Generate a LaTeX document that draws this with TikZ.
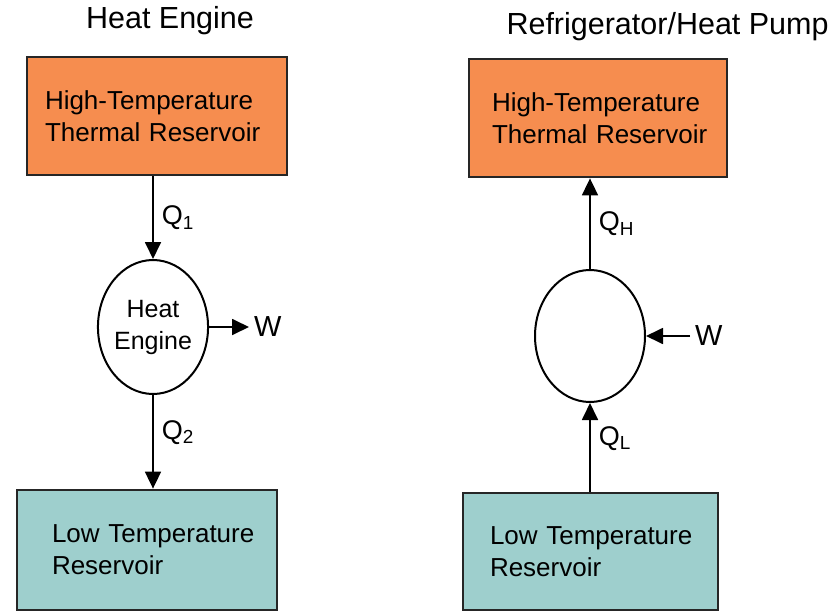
\documentclass[tikz,border=0pt]{standalone}
\usepackage{fontspec}
\setmainfont{Liberation Sans}
\usepackage{xcolor}
\usetikzlibrary{arrows.meta,positioning,shapes.geometric}
\definecolor{hotorange}{RGB}{246,141,79}
\definecolor{coldteal}{RGB}{158,207,205}
\hyphenpenalty=10000
\exhyphenpenalty=10000

\begin{document}
\begin{tikzpicture}[
  x=1pt, y=-1pt,
  res/.style={
    rectangle,
    draw=black!85,
    line width=2.8pt,
    align=left,
    minimum height=118pt,
    font=\fontsize{26}{32}\selectfont
  },
  eng/.style={
    ellipse,
    draw=black,
    line width=2pt,
    fill=white,
    align=center,
    inner sep=0pt,
    font=\fontsize{25}{32}\selectfont
  },
  flow/.style={-{Triangle[length=17pt,width=16pt]}, line width=1.8pt},
  qlbl/.style={font=\fontsize{27}{30}\selectfont, inner xsep=8pt, inner ysep=2pt},
  wlbl/.style={font=\fontsize{29}{30}\selectfont, anchor=west, inner sep=5pt},
  ttl/.style={font=\fontsize{30.5}{34}\selectfont}
]
\useasboundingbox (0,0) rectangle (833,613);

% heat engine
\node[ttl] (ttlA) at (170,21) {Heat Engine};
\node[res, fill=hotorange, inner xsep=18pt, text width=224pt] (hotA) at (157,116) {High-Temperature\\Thermal~Reservoir};
\node[eng, minimum width=108pt, minimum height=134pt] (engA) at (153,327) {Heat\\Engine};
\node[res, fill=coldteal, inner xsep=35pt, text width=190pt, minimum height=120pt] (coldA) at (147,550) {Low~Temperature\\Reservoir};
\node[wlbl] (wA) at (249,327) {W};

\draw[flow] (engA |- hotA.south) -- node[qlbl, right] {Q\textsubscript{1}} (engA.north);
\draw[flow] (engA.south) -- node[qlbl, right, pos=0.4] {Q\textsubscript{2}} (engA |- coldA.north);
\draw[flow] (engA.east) -- (wA.west);

% refrigerator / heat pump
\node[ttl, anchor=west] (ttlB) at (503,27) {Refrigerator/Heat Pump};
\node[res, fill=hotorange, inner xsep=23pt, text width=212pt] (hotB) at (598,118) {High-Temperature\\Thermal~Reservoir};
\node[eng, minimum width=110pt, minimum height=132pt] (engB) at (590,336) {};
\node[res, fill=coldteal, inner xsep=27pt, text width=201pt, minimum height=117pt] (coldB) at (590.5,551.5) {Low~Temperature\\Reservoir};
\node[wlbl] (wB) at (690,336) {W};

\draw[flow] (engB.north) -- node[qlbl, right] {Q\textsubscript{H}} (engB |- hotB.south);
\draw[flow] (engB |- coldB.north) -- node[qlbl, right, pos=0.6] {Q\textsubscript{L}} (engB.south);
\draw[flow] (wB.west) -- (engB.east);

\end{tikzpicture}
\end{document}
